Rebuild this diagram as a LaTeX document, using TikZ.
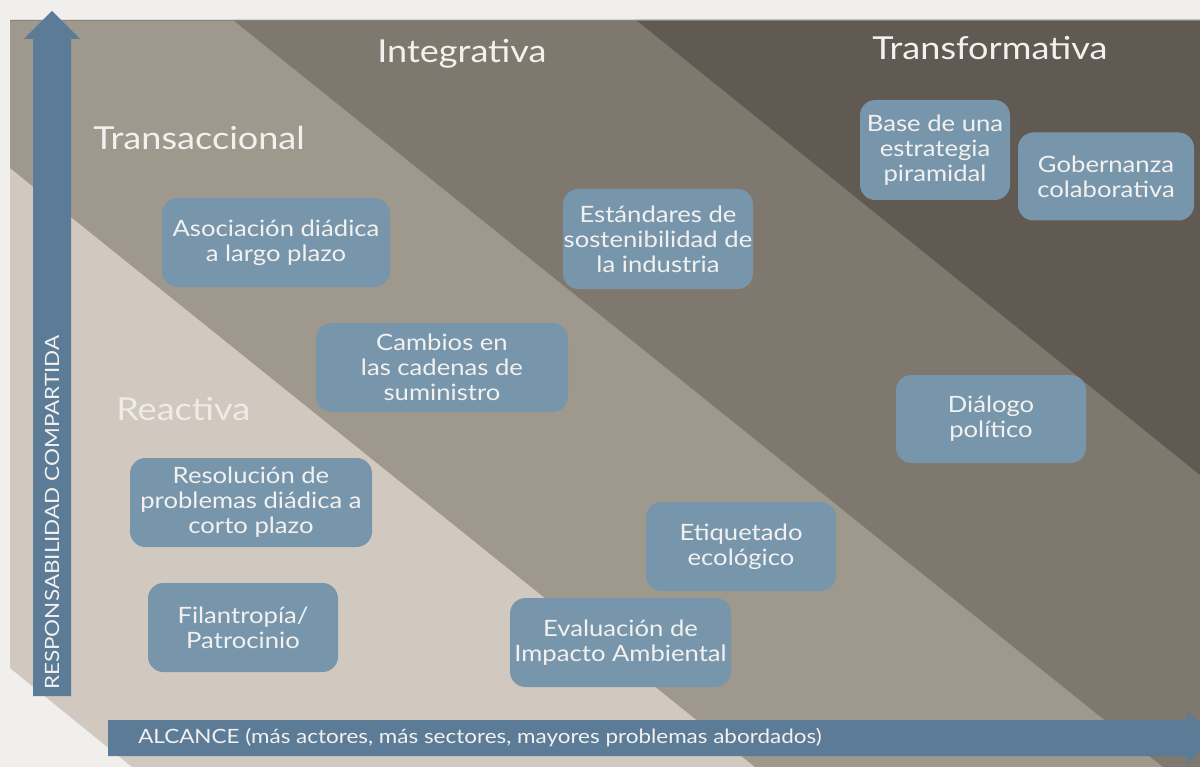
\documentclass[tikz,border=0pt]{standalone}
\usepackage{fontspec}
\setmainfont{Lato}[FakeStretch=1.14]
\usepackage{tikz}
\usetikzlibrary{positioning}
\definecolor{pageBg}{HTML}{F0EFED}
\definecolor{bandReact}{HTML}{D1C8BF}
\definecolor{bandTrans}{HTML}{9F988D}
\definecolor{bandInteg}{HTML}{7F786E}
\definecolor{bandTransf}{HTML}{615A53}
\definecolor{boxFill}{HTML}{7896AB}
\definecolor{axisBlue}{HTML}{5B7B96}
\definecolor{txtLight}{HTML}{F3F1EF}
\definecolor{txtReact}{HTML}{EFEBE7}
\tikzset{
  actbox/.style={fill=boxFill, rounded corners=11pt, text=txtLight, align=center,
    inner sep=0pt, font=\fontsize{16}{17.8}\selectfont},
  bandtitle/.style={anchor=base west, text=txtLight, inner sep=0pt,
    font=\fontsize{22.5}{26}\selectfont},
  axislabel/.style={text=txtLight, inner sep=0pt, font=\fontsize{14}{16}\selectfont},
}
\begin{document}
\begin{tikzpicture}[x=0.025cm, y=-0.025cm]
  \useasboundingbox (0,0) rectangle (1200,767);
  \clip (0,0) rectangle (1200,767);
  \fill[pageBg] (0,0) rectangle (1200,767);
  % bands
  \fill[bandReact] (10,20) -- (1200,20) -- (1200,767) -- (132,767) -- (10,668) -- cycle;
  \fill[bandTrans] (10,20) -- (1200,20) -- (1200,767) -- (755,767) -- (10,168) -- cycle;
  \fill[bandInteg] (233,20) -- (1200,20) -- (1200,767) -- (1163,767) -- cycle;
  \fill[bandTransf] (636,20) -- (1200,20) -- (1200,475) -- cycle;
  \draw[bandTrans!85!black, line width=0.6pt] (10,20.5) -- (1200,20.5);
  % titles
  \node[bandtitle] (tTransf) at (872,60) {Transformativa};
  \node[bandtitle] (tInteg) at (377,63) {Integrativa};
  \node[bandtitle] (tTrans) at (93,150) {Transaccional};
  \node[bandtitle, text=txtReact] (tReact) at (116,420) {Reactiva};
  % initiatives
  \node[actbox, minimum width=150*0.025cm, minimum height=100*0.025cm] (base) at (935,150)
    {Base de una\\estrategia\\piramidal};
  \node[actbox, minimum width=176*0.025cm, minimum height=88*0.025cm] (gober) at (1106,176.5)
    {Gobernanza\\colaborativa};
  \node[actbox, minimum width=228*0.025cm, minimum height=89*0.025cm] (asoc) at (276,242.5)
    {Asociación diádica\\a largo plazo};
  \node[actbox, minimum width=190*0.025cm, minimum height=100*0.025cm] (estand) at (658,239)
    {Estándares de\\sostenibilidad de\\la industria};
  \node[actbox, minimum width=252*0.025cm, minimum height=89*0.025cm] (cambios) at (442,367.5)
    {Cambios en\\las cadenas de\\suministro};
  \node[actbox, minimum width=190*0.025cm, minimum height=88*0.025cm] (dialogo) at (991,419)
    {Diálogo\\político};
  \node[actbox, minimum width=242*0.025cm, minimum height=89*0.025cm] (resol) at (251,502.5)
    {Resolución de\\problemas diádica a\\corto plazo};
  \node[actbox, minimum width=190*0.025cm, minimum height=89*0.025cm] (etiq) at (741,546.5)
    {Etiquetado\\ecológico};
  \node[actbox, minimum width=190*0.025cm, minimum height=89*0.025cm] (filan) at (243,627.5)
    {Filantropía/\\Patrocinio};
  \node[actbox, minimum width=221*0.025cm, minimum height=89*0.025cm] (evalu) at (620.5,642.5)
    {Evaluación de\\Impacto Ambiental};
  % axes
  \fill[axisBlue] (33,696) -- (33,39) -- (24,39) -- (52,11) -- (80,39) -- (71,39) -- (71,696) -- cycle;
  \fill[axisBlue] (108,720) -- (1187,720) -- (1187,710) -- (1214,737.5) -- (1187,765) -- (1187,756) -- (108,756) -- cycle;
  \coordinate (yStart) at (52,690);
  \coordinate (xStart) at (138,738);
  \node[axislabel, rotate=90, anchor=west] (yLabel) at (yStart) {RESPONSABILIDAD COMPARTIDA};
  \node[axislabel, anchor=west] (xLabel) at (xStart) {ALCANCE (más actores, más sectores, mayores problemas abordados)};
\end{tikzpicture}
\end{document}
